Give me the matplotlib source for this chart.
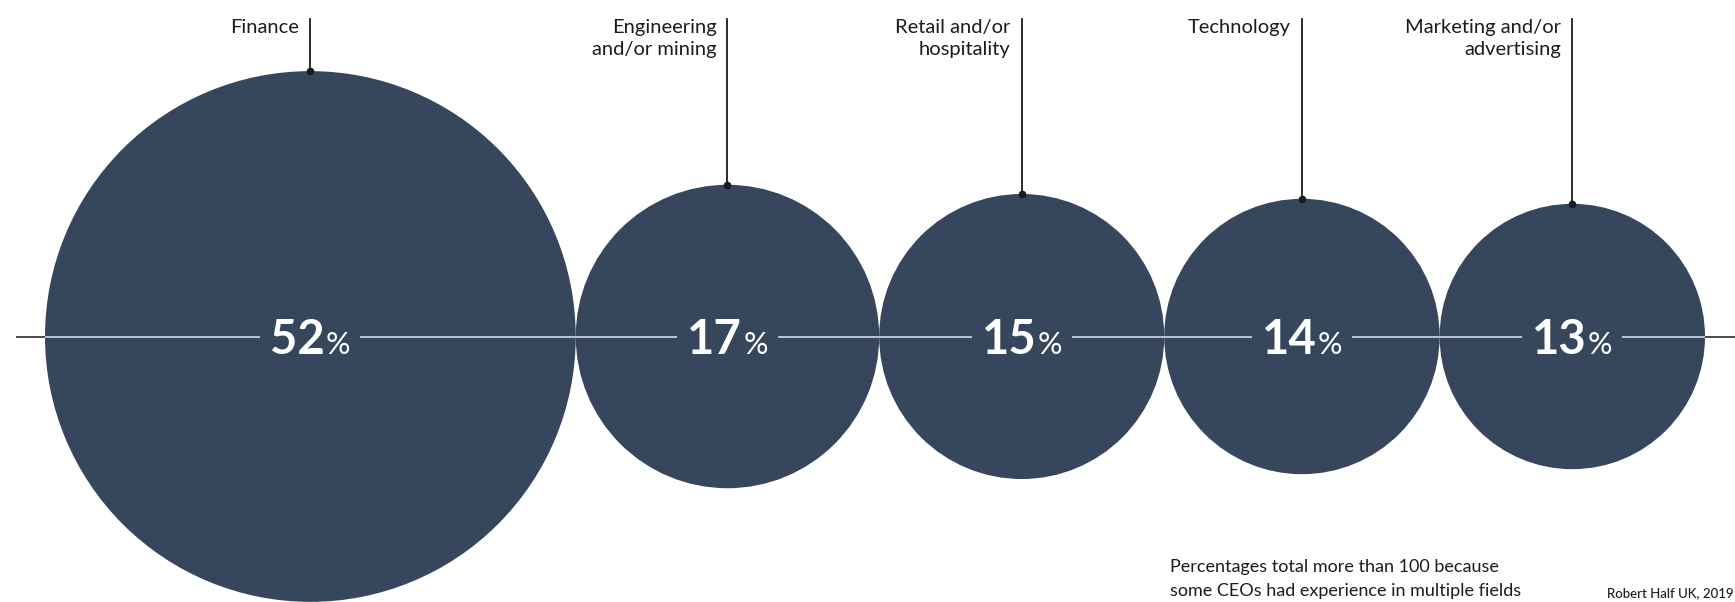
import numpy as np
import matplotlib.pyplot as plt
from matplotlib.patches import Circle, Rectangle

# data
categories  = ['Finance', 'Engineering\nand/or mining', 'Retail and/or\nhospitality', 'Technology', 'Marketing and/or\nadvertising']
values      = [52, 17, 15, 14, 13]
note        = 'Percentages total more than 100 because\nsome CEOs had experience in multiple fields'
source      = 'Robert Half UK, 2019'

W, H        = 1735, 602
circle_col  = '#36465c'
text_col    = '#1c1c1c'
font        = ['Lato', 'DejaVu Sans']

fig         = plt.figure(figsize=(W/100, H/100), dpi=100)
ax          = fig.add_axes([0, 0, 1, 1])
ax.set_xlim(0, W)
ax.set_ylim(H, 0)
ax.axis('off')

# area proportional circles, touching each other, filling the row
x0, x1      = 45, 1705
cy          = 336.5
sq          = np.sqrt(np.array(values, dtype=float))
k           = (x1 - x0)/(2*sq.sum())
radii       = k*sq
centers     = x0 + np.cumsum(2*radii) - radii

ax.plot([16, W], [cy, cy], color='#3a3a3a', lw=1.3, zorder=1, solid_capstyle='butt')

fig.canvas.draw()
renderer    = fig.canvas.get_renderer()

for cat, v, cx, r in zip(categories, values, centers, radii):
    ax.add_patch(Circle((cx, cy), r, facecolor=circle_col, edgecolor='none', zorder=2))
    ax.plot([cx - r, cx + r], [cy, cy], color='#c9ced6', lw=1.3, zorder=3, solid_capstyle='butt')

    # number + percent sign, centred together on the circle
    num     = ax.text(0, cy + 17, str(v), ha='left', va='baseline', fontsize=34, weight='bold',
                      color='white', family=font, zorder=5)
    pct     = ax.text(0, cy + 17, '%', ha='left', va='baseline', fontsize=22, weight='normal',
                      color='white', family=font, zorder=5)
    wn      = num.get_window_extent(renderer).width
    wp      = pct.get_window_extent(renderer).width
    gap     = 1
    start   = cx - (wn + gap + wp)/2
    num.set_x(start)
    pct.set_x(start + wn + gap)
    ax.add_patch(Rectangle((start - 10, cy - 4), wn + gap + wp + 20, 8, facecolor=circle_col,
                           edgecolor='none', zorder=4))

    # leader line and label
    top     = cy - r
    ax.plot([cx, cx], [19, top], color=text_col, lw=1.3, zorder=3)
    ax.plot(cx, top, 'o', ms=4.5, color=text_col, zorder=6)
    ax.text(cx - 11, 19, cat, ha='right', va='top', fontsize=14.5, color=text_col,
            family=font, linespacing=1.35)

ax.text(1170, 579, note, ha='left', va='center', fontsize=13, color=text_col,
        family=font, linespacing=1.6)
ax.text(1733, 593, source, ha='right', va='center', fontsize=9.5, color=text_col,
        family=font, weight='medium')

fig.savefig('out.png', dpi=100)
